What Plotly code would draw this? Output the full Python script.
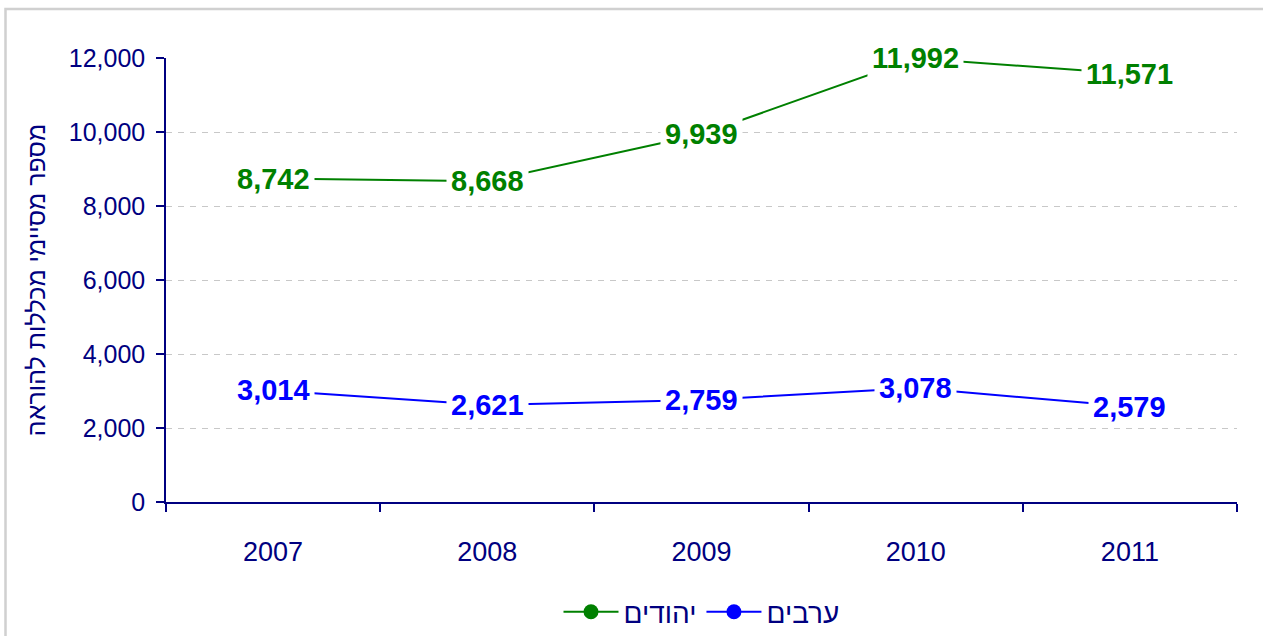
import plotly.graph_objects as go

years = ["2007", "2008", "2009", "2010", "2011"]
jews = [8742, 8668, 9939, 11992, 11571]
arabs = [3014, 2621, 2759, 3078, 2579]
series_names = ["יהודים", "ערבים"]
y_title = "מספר מסיימי מכללות להוראה"
y_ticks = [0, 2000, 4000, 6000, 8000, 10000, 12000]

GREEN = "#008000"
BLUE = "#0000FF"
NAVY = "#000080"
FONT = "Liberation Sans, Arial, sans-serif"

fig = go.Figure()
for name, vals, col in [(series_names[0], jews, GREEN), (series_names[1], arabs, BLUE)]:
    fig.add_trace(go.Scatter(
        x=years, y=vals, name=name, mode="lines+markers",
        line=dict(color=col, width=2),
        marker=dict(color=col, size=15),
    ))
    for i, yv in enumerate(vals):
        fig.add_annotation(
            x=i, y=yv, xref="x", yref="y", text=f"<b>{yv:,}</b>", showarrow=False,
            font=dict(family=FONT, size=29, color=col),
            bgcolor="white", borderpad=4, xanchor="center", yanchor="middle",
        )

L, R, T, B = 166, 26, 58, 134
pw = 1263 - L - R
ph = 636 - T - B
fig.add_shape(
    type="rect", xref="paper", yref="paper",
    x0=(5.5 - L) / pw, x1=(1275 - L) / pw,
    y0=(502 - 650) / ph, y1=(502 - 9) / ph,
    line=dict(color="#d0d0d0", width=2.5), fillcolor="rgba(0,0,0,0)", layer="below",
)

fig.update_layout(
    width=1263, height=636,
    margin=dict(l=L, r=R, t=T, b=B, autoexpand=False),
    paper_bgcolor="white", plot_bgcolor="white",
    font=dict(family=FONT, color=NAVY),
    showlegend=True,
    legend=dict(orientation="h", x=0.5, xanchor="center", y=(502 - 612) / ph, yanchor="middle",
                font=dict(size=28, family=FONT), traceorder="normal", itemwidth=55),
    xaxis=dict(
        type="category", range=[-0.5, 4.5], showline=True, linecolor=NAVY, linewidth=1.5,
        ticks="outside", tickson="boundaries", ticklen=8, tickcolor=NAVY, tickwidth=1.5,
        showgrid=False, tickfont=dict(size=27, color=NAVY), ticklabelstandoff=25, automargin=False,
    ),
    yaxis=dict(
        range=[0, 12000], tickvals=y_ticks, tickformat=",d", showline=True, linecolor=NAVY, linewidth=1.5,
        ticks="outside", ticklen=8, tickcolor=NAVY, tickwidth=1.5,
        showgrid=True, gridcolor="#c8c8c8", griddash="6px,6px", gridwidth=1, zeroline=False,
        tickfont=dict(size=25, color=NAVY), ticklabelstandoff=6, automargin=False,
        title=dict(text=y_title, font=dict(size=25, color=NAVY), standoff=16),
    ),
)

fig.write_html("out.html", config={"displayModeBar": False},
               post_script="document.body.style.margin='0';document.body.style.overflow='hidden';")
